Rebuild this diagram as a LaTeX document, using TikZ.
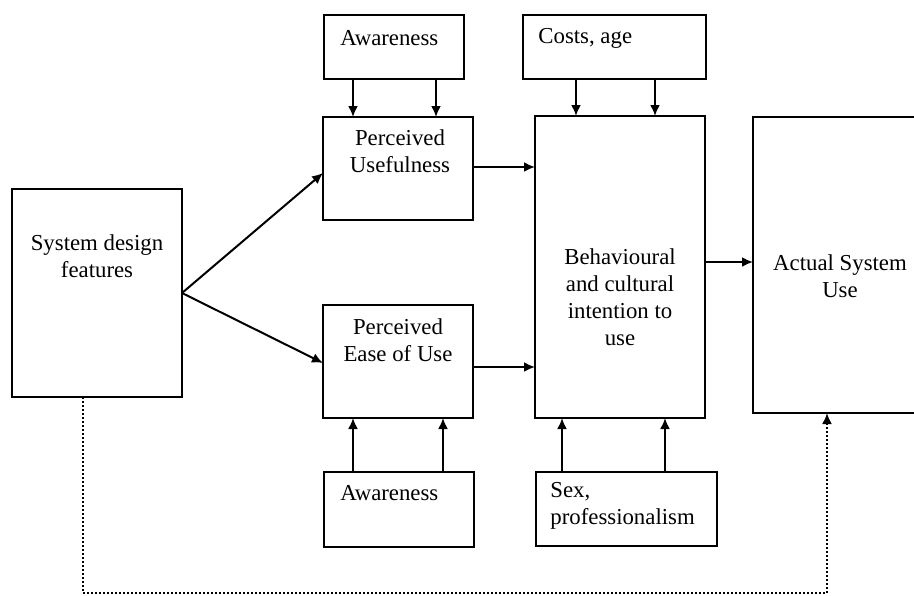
\documentclass[tikz,border=0pt]{standalone}
\usepackage{fontspec}
\setmainfont{Liberation Serif}
\usetikzlibrary{arrows.meta}

\begin{document}
\begin{tikzpicture}[x=0.5pt,y=-0.5pt,>={Latex[length=5.5pt,width=5pt]},
  blk/.style={draw,line width=1.2pt,inner sep=0pt,outer sep=0pt},
  lbl/.style={align=center,inner sep=0pt,font=\fontsize{11.4}{13.4}\selectfont},
  arr/.style={->,line width=1pt}]
  \useasboundingbox (0,0) rectangle (914,595);
  \node[blk,minimum width=85pt,minimum height=104pt] (sdf) at (97,293) {};
  \node[blk,minimum width=70pt,minimum height=32pt] (aw1) at (394,47) {};
  \node[blk,minimum width=75pt,minimum height=51.5pt] (pu) at (398,168.5) {};
  \node[blk,minimum width=75pt,minimum height=56.5pt] (peou) at (398,361.5) {};
  \node[blk,minimum width=75pt,minimum height=37.5pt] (aw2) at (399,509.5) {};
  \node[blk,minimum width=91.5pt,minimum height=32pt] (cost) at (614.5,47) {};
  \node[blk,minimum width=85pt,minimum height=151pt] (bi) at (620,267) {};
  \node[blk,minimum width=90.5pt,minimum height=37pt] (sex) at (626.5,509) {};
  \node[blk,minimum width=87pt,minimum height=148pt] (act) at (840,265) {};

  \node[lbl] (sdf-t) at (97,256) {System design\\features};
  \node[lbl,anchor=west] (aw1-t) at (340,38) {Awareness};
  \node[lbl,anchor=west] (cost-t) at (538,38) {Costs, age};
  \node[lbl] (pu-t) at (400,151) {Perceived\\Usefulness};
  \node[lbl] (peou-t) at (398,340) {Perceived\\Ease of Use};
  \node[lbl] (bi-t) at (620,297) {Behavioural\\and cultural\\intention to\\use};
  \node[lbl] (act-t) at (840,276) {Actual System\\Use};
  \node[lbl,anchor=west] (aw2-t) at (340,493) {Awareness};
  \node[lbl,anchor=west,align=left] (sex-t) at (550,506) {Sex,\\professionalism};

  \draw[arr] ([xshift=-20.5pt]aw1.south) -- ([xshift=-22.5pt]pu.north);
  \draw[arr] ([xshift=21pt]aw1.south) -- ([xshift=19pt]pu.north);
  \draw[arr] ([xshift=-19.25pt]cost.south) -- ([xshift=-22pt]bi.north);
  \draw[arr] ([xshift=20.25pt]cost.south) -- ([xshift=17.5pt]bi.north);
  \draw[arr] ([xshift=-23pt]aw2.north) -- ([xshift=-22.5pt]peou.south);
  \draw[arr] ([xshift=22pt]aw2.north) -- ([xshift=22.5pt]peou.south);
  \draw[arr] ([xshift=-32.25pt]sex.north) -- ([xshift=-29pt]bi.south);
  \draw[arr] ([xshift=19.25pt]sex.north) -- ([xshift=22.5pt]bi.south);

  \draw[arr] (sdf.east) -- ([yshift=-2.25pt]pu.west);
  \draw[arr] (sdf.east) -- ([yshift=-0.75pt]peou.west);
  \draw[arr] ([yshift=0.75pt]pu.east) -- ([yshift=0.75pt]pu.east -| bi.west);
  \draw[arr] ([yshift=-2.75pt]peou.east) -- ([yshift=-2.75pt]peou.east -| bi.west);
  \draw[arr] ([yshift=2.5pt]bi.east) -- ([yshift=2.5pt]bi.east -| act.west);

  \draw[arr,densely dotted] ([xshift=-7pt]sdf.south) -- ++(0,196) -| ([xshift=-6.5pt]act.south);
\end{tikzpicture}
\end{document}
